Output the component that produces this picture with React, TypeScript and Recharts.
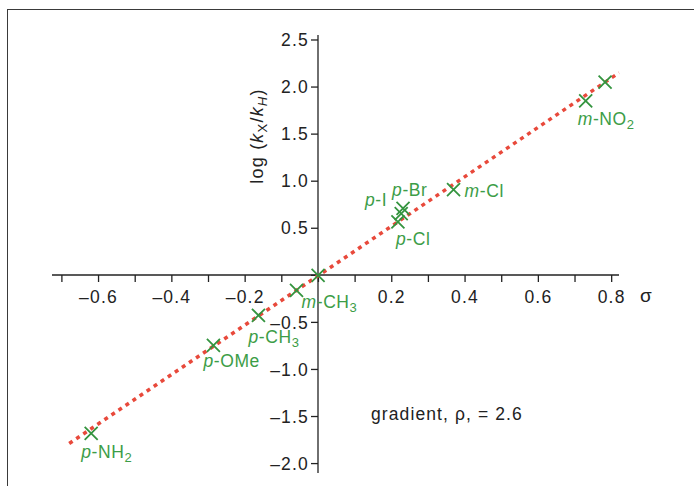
import { ComposedChart, Line, Scatter, XAxis, YAxis } from 'recharts';

const substituents = ['p-NH2', 'p-OMe', 'p-CH3', 'm-CH3', 'H', 'p-Cl', 'p-I', 'p-Br', 'm-Cl', 'm-NO2', 'p-NO2'];
const sigma = [-0.62, -0.286, -0.163, -0.059, 0, 0.218, 0.227, 0.232, 0.37, 0.731, 0.784];
const logRatio = [-1.68, -0.745, -0.425, -0.16, 0, 0.567, 0.656, 0.71, 0.91, 1.854, 2.053];
const fitSigma = [-0.68, 0.822];
const fitLog = [-1.787, 2.152];
const xTicks = [-0.7, -0.6, -0.5, -0.4, -0.3, -0.2, -0.1, 0, 0.1, 0.2, 0.3, 0.4, 0.5, 0.6, 0.7, 0.8];
const yTicks = [-2, -1.5, -1, -0.5, 0, 0.5, 1, 1.5, 2, 2.5];
const note = 'gradient, ρ, = 2.6';

const points = substituents.map((name, i) => ({ name, x: sigma[i], y: logRatio[i] }));
const fit = fitSigma.map((x, i) => ({ x, y: fitLog[i] }));

const W = 694;
const H = 486;
const X_DOMAIN = [-0.727, 0.82];
const Y_DOMAIN = [-2.1, 2.553];
const M = { top: 35, right: 75, bottom: 13, left: 52 };
const ORIGIN = { x: 318, y: 275 };
const FONT = '"Liberation Sans", Arial, sans-serif';
const GREEN = '#3c9d47';
const MARK = '#34943f';
const RED = '#e8493b';
const INK = '#222';

// label placement relative to the marker, in px
const LABEL_POS: Record<string, { dx: number; dy: number; anchor?: 'start' | 'end' }> = {
  'p-NH2': { dx: -10, dy: 25 },
  'p-OMe': { dx: -10, dy: 22 },
  'p-CH3': { dx: -10, dy: 28 },
  'm-CH3': { dx: 5, dy: 18 },
  'p-Cl': { dx: -2, dy: 23 },
  'p-I': { dx: -14, dy: -8, anchor: 'end' },
  'p-Br': { dx: -11, dy: -12 },
  'm-Cl': { dx: 11, dy: 7 },
  'm-NO2': { dx: -8, dy: 24 },
};

const minus = (s: string) => s.replace('-', '\u2013');

function Marker(props: any) {
  const { cx, cy, payload } = props;
  const r = 6.5;
  const pos = LABEL_POS[payload.name];
  let label = null;
  if (pos) {
    const name: string = payload.name;
    const m = name.slice(1).match(/^(.*?)(\d*)$/) || ['', name.slice(1), ''];
    label = (
      <text x={cx + pos.dx} y={cy + pos.dy} fill={GREEN} fontSize={17.5} letterSpacing={0.6} fontFamily={FONT} textAnchor={pos.anchor || 'start'}>
        <tspan fontStyle="italic">{name[0]}</tspan>
        <tspan>{m[1]}</tspan>
        {m[2] ? <tspan fontSize={13} dy={4}>{m[2]}</tspan> : null}
      </text>
    );
  }
  return (
    <g>
      <path d={`M${cx - r},${cy - r}L${cx + r},${cy + r}M${cx - r},${cy + r}L${cx + r},${cy - r}`} stroke={MARK} strokeWidth={1.8} />
      {label}
    </g>
  );
}

const tickStyle = { fill: INK, fontSize: 17.5, fontFamily: FONT, letterSpacing: 1.2 };

export default function App() {
  const layer = { position: 'absolute' as const, left: 0, top: 0 };
  return (
    <div style={{ position: 'absolute', left: 0, top: 0, width: W, height: H, overflow: 'hidden', background: '#fff' }}>
      <div style={{ position: 'absolute', left: 7, top: 9, width: 800, height: 600, borderLeft: '1.5px solid #3a3a3a', borderTop: '1.5px solid #3a3a3a' }} />

      {/* x axis drawn through y = 0 */}
      <div style={layer}>
        <ComposedChart width={W} height={H} margin={{ top: M.top, right: M.right, left: M.left, bottom: H - ORIGIN.y - 30 }}>
          <XAxis
            type="number"
            dataKey="x"
            domain={X_DOMAIN}
            allowDataOverflow
            ticks={xTicks}
            interval={0}
            height={30}
            tickSize={7}
            tickMargin={9}
            tickFormatter={(v: number) => (Math.round(v * 10) % 2 === 0 && v !== 0 ? minus(v.toFixed(1)) : '')}
            tick={tickStyle}
            axisLine={{ stroke: INK, strokeWidth: 1.3 }}
            tickLine={{ stroke: INK, strokeWidth: 1.3 }}
          />
          <YAxis type="number" dataKey="y" domain={Y_DOMAIN} hide />
          <Scatter data={points} dataKey="y" shape={() => <g />} isAnimationActive={false} />
        </ComposedChart>
      </div>

      {/* y axis drawn through x = 0 */}
      <div style={layer}>
        <ComposedChart width={W} height={H} margin={{ top: M.top, right: M.right, left: ORIGIN.x - 60, bottom: M.bottom }}>
          <XAxis type="number" dataKey="x" domain={X_DOMAIN} hide />
          <YAxis
            type="number"
            dataKey="y"
            domain={Y_DOMAIN}
            allowDataOverflow
            ticks={yTicks}
            interval={0}
            width={60}
            tickSize={7}
            tickMargin={2}
            tickFormatter={(v: number) => (v === 0 ? '' : minus(v.toFixed(1)))}
            tick={tickStyle}
            axisLine={{ stroke: INK, strokeWidth: 1.3 }}
            tickLine={{ stroke: INK, strokeWidth: 1.3 }}
          />
          <Scatter data={points} dataKey="y" shape={() => <g />} isAnimationActive={false} />
        </ComposedChart>
      </div>

      {/* data */}
      <div style={layer}>
        <ComposedChart width={W} height={H} margin={M}>
          <XAxis type="number" dataKey="x" domain={X_DOMAIN} hide />
          <YAxis type="number" dataKey="y" domain={Y_DOMAIN} hide />
          <Line data={fit} dataKey="y" stroke={RED} strokeWidth={3.5} strokeDasharray="4 4.5" dot={false} activeDot={false} isAnimationActive={false} />
          <Scatter data={points} dataKey="y" shape={Marker} isAnimationActive={false} />
        </ComposedChart>
      </div>

      <svg style={layer} width={W} height={H} fontFamily={FONT}>
        <text transform="translate(263,136) rotate(-90)" textAnchor="middle" fontSize={18} letterSpacing={1.2} fill={INK}>
          log (<tspan fontStyle="italic">k</tspan>
          <tspan fontSize={13} dy={4}>X</tspan>
          <tspan dy={-4}>/</tspan>
          <tspan fontStyle="italic">k</tspan>
          <tspan fontSize={13} dy={4} fontStyle="italic">H</tspan>
          <tspan dy={-4}>)</tspan>
        </text>
        <text x={640} y={302} fontSize={19} fill={INK}>σ</text>
        <text x={371} y={420} fontSize={17.5} letterSpacing={1.1} fill={INK}>{note}</text>
      </svg>
    </div>
  );
}
